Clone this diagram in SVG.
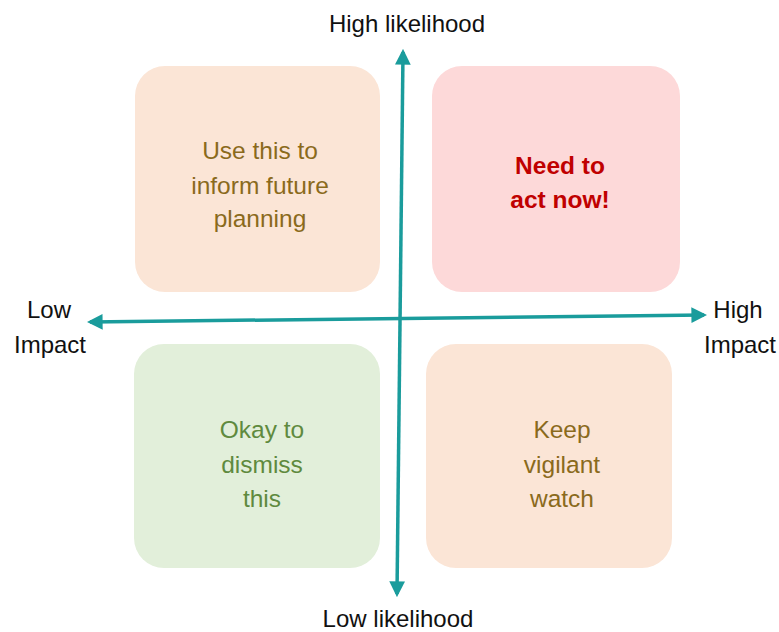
<svg xmlns="http://www.w3.org/2000/svg" width="779" height="632" viewBox="0 0 779 632">
<defs>
<style>
.box{stroke:none}
.t{font-family:"Liberation Sans","Open Sans",sans-serif;font-size:24.5px;text-anchor:middle}
.ax{font-family:"Liberation Sans","Open Sans",sans-serif;font-size:24px;fill:#111;text-anchor:middle}
.conn{stroke:#1a9c9c;stroke-width:3.5;fill:none}
</style>
<marker id="ah" viewBox="0 0 10 10" refX="8" refY="5" markerWidth="4.5" markerHeight="4.5" orient="auto-start-reverse" markerUnits="strokeWidth">
<path d="M0,0 L10,5 L0,10 z" fill="#1a9c9c"/>
</marker>
</defs>
<rect width="779" height="632" fill="#ffffff"/>
<g id="q-top-left">
<rect class="box" x="135" y="66" width="245" height="226" rx="30" fill="#fbe5d6"/>
<text class="t" fill="#8a6a1c" x="260" y="159">Use this to</text>
<text class="t" fill="#8a6a1c" x="260" y="194">inform future</text>
<text class="t" fill="#8a6a1c" x="260" y="227">planning</text>
</g>
<g id="q-top-right">
<rect class="box" x="432" y="66" width="248" height="226" rx="30" fill="#fdd9d9"/>
<text class="t" fill="#c00000" font-weight="bold" x="560" y="174">Need to</text>
<text class="t" fill="#c00000" font-weight="bold" x="560" y="208">act now!</text>
</g>
<g id="q-bottom-left">
<rect class="box" x="134" y="344" width="246" height="224" rx="30" fill="#e2efda"/>
<text class="t" fill="#5f8a3e" x="262" y="438">Okay to</text>
<text class="t" fill="#5f8a3e" x="262" y="473">dismiss</text>
<text class="t" fill="#5f8a3e" x="262" y="507">this</text>
</g>
<g id="q-bottom-right">
<rect class="box" x="426" y="344" width="246" height="224" rx="30" fill="#fbe5d6"/>
<text class="t" fill="#8a6a1c" x="562" y="438">Keep</text>
<text class="t" fill="#8a6a1c" x="562" y="473">vigilant</text>
<text class="t" fill="#8a6a1c" x="562" y="507">watch</text>
</g>
<g id="connectors">
<line class="conn" x1="397" y1="594" x2="403" y2="52" marker-end="url(#ah)" marker-start="url(#ah)"/>
<line class="conn" x1="90" y1="322" x2="704" y2="315" marker-end="url(#ah)" marker-start="url(#ah)"/>
</g>
<g id="labels">
<text class="ax" x="407" y="32">High likelihood</text>
<text class="ax" x="398" y="627">Low likelihood</text>
<text class="ax" x="49" y="318">Low</text>
<text class="ax" x="50" y="353">Impact</text>
<text class="ax" x="738" y="318">High</text>
<text class="ax" x="740" y="353">Impact</text>
</g>
</svg>
